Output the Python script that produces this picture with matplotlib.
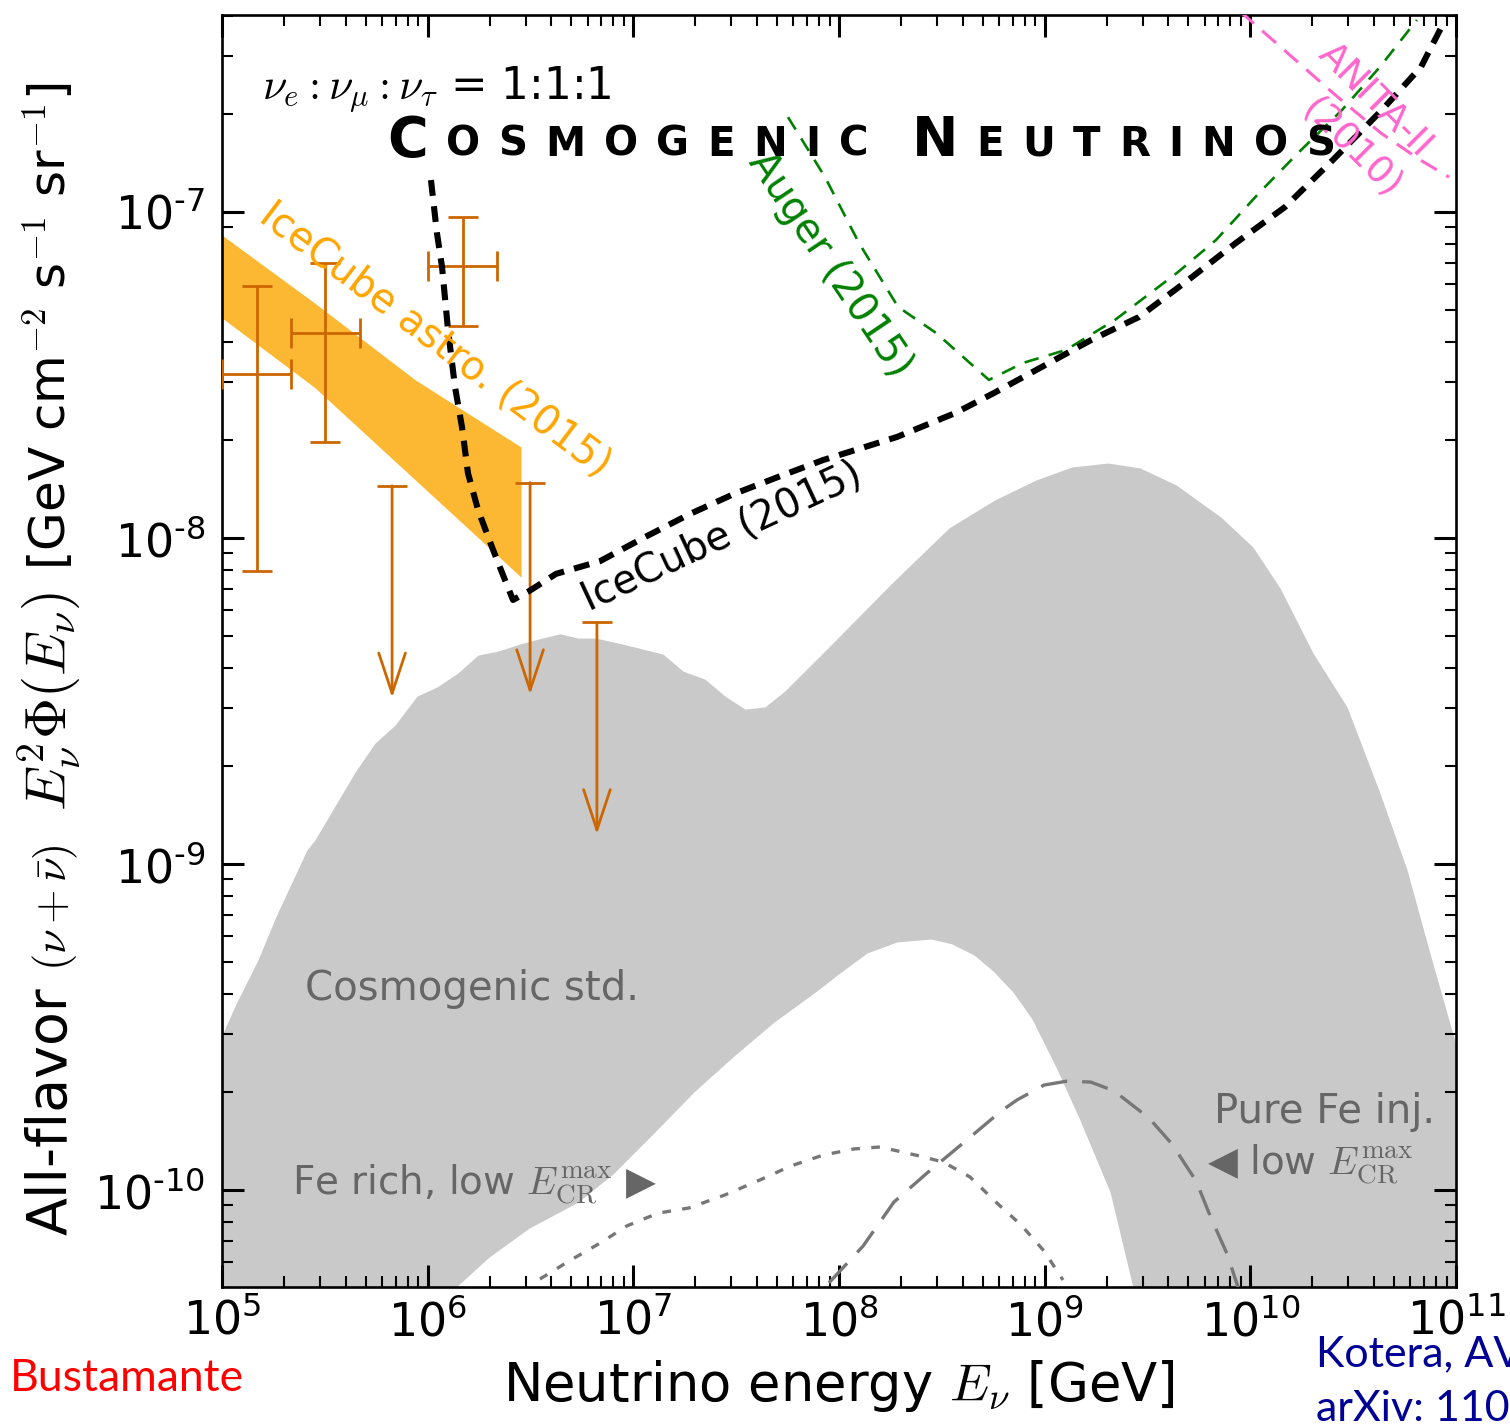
import numpy as np
import matplotlib
matplotlib.use("Agg")
import matplotlib.pyplot as plt
from matplotlib.ticker import LogLocator, NullFormatter

plt.rcParams['font.family'] = ['DejaVu Sans']
plt.rcParams['mathtext.fontset'] = 'cm'

# ---------------- data: log10(E / GeV) and log10(E^2 Phi / GeV cm^-2 s^-1 sr^-1) ----------------
# Cosmogenic std. band (grey)
std_upper_logE = [5.000, 5.068, 5.175, 5.263, 5.413, 5.452, 5.647, 5.744, 5.841, 5.948, 6.045, 6.147,
                  6.245, 6.342, 6.449, 6.556, 6.643, 6.731, 6.818, 6.945, 7.144, 7.241, 7.348, 7.446,
                  7.543, 7.640, 7.737, 7.942, 8.253, 8.535, 8.758, 8.958, 9.133, 9.308, 9.463, 9.639,
                  9.857, 10.013, 10.144, 10.305, 10.470, 10.630, 10.762, 10.873, 11.000]
std_upper_logF = [-9.525, -9.429, -9.294, -9.160, -8.957, -8.926, -8.718, -8.629, -8.574, -8.485, -8.457, -8.414,
                  -8.359, -8.347, -8.325, -8.307, -8.294, -8.307, -8.307, -8.325, -8.356, -8.408, -8.433, -8.485,
                  -8.525, -8.518, -8.469, -8.340, -8.141, -7.969, -7.883, -7.822, -7.782, -7.770, -7.785, -7.837,
                  -7.936, -8.028, -8.153, -8.353, -8.518, -8.782, -9.018, -9.273, -9.555]
std_lower_logE = [6.138, 6.298, 6.493, 6.731, 6.906, 7.100, 7.295, 7.489, 7.684, 7.878, 8.005, 8.136,
                  8.282, 8.447, 8.549, 8.656, 8.749, 8.846, 8.938, 9.055, 9.167, 9.318, 9.429]
std_lower_logF = [-10.298, -10.206, -10.117, -10.037, -9.948, -9.825, -9.699, -9.589, -9.485, -9.396, -9.334, -9.273,
                  -9.239, -9.230, -9.245, -9.279, -9.328, -9.393, -9.475, -9.623, -9.779, -10.006, -10.298]

# IceCube astrophysical band (2015)
astro_logE = [5.000, 5.450, 5.940, 6.454]
astro_upper_logF = [-7.071, -7.279, -7.515, -7.721]
astro_lower_logF = [-7.325, -7.538, -7.822, -8.120]

# IceCube data points
pts_logE = [5.169, 5.501, 6.170]
pts_logE_lo = [5.000, 5.335, 6.000]
pts_logE_hi = [5.335, 5.671, 6.337]
pts_logF = [-7.497, -7.371, -7.166]
pts_logF_lo = [-8.100, -7.705, -7.349]
pts_logF_hi = [-7.227, -7.156, -7.015]

# IceCube upper limits
ul_logE = [5.827, 6.498, 6.823]
ul_logF = [-7.840, -7.830, -8.259]

# IceCube (2015) sensitivity
ic_logE = [6.016, 6.045, 6.070, 6.099, 6.133, 6.167, 6.196, 6.245, 6.313, 6.376, 6.415, 6.493,
           6.624, 6.838, 7.057, 7.276, 7.489, 7.703, 7.922, 8.049, 8.282, 8.564, 8.754, 8.987,
           9.225, 9.459, 9.697, 9.930, 10.168, 10.402, 10.640, 10.830, 10.947]
ic_logF = [-6.902, -7.064, -7.169, -7.362, -7.537, -7.660, -7.801, -7.914, -8.028, -8.129, -8.190, -8.163,
           -8.110, -8.071, -7.997, -7.926, -7.865, -7.813, -7.761, -7.736, -7.690, -7.617, -7.555, -7.475,
           -7.393, -7.322, -7.209, -7.095, -6.985, -6.840, -6.687, -6.555, -6.411]

# Auger (2015)
auger_logE = [7.752, 7.932, 8.097, 8.287, 8.472, 8.729, 8.895, 9.104, 9.342, 9.643, 9.833, 10.042,
              10.232, 10.446, 10.630, 10.810]
auger_logF = [-6.709, -6.893, -7.095, -7.291, -7.371, -7.515, -7.463, -7.423, -7.331, -7.187, -7.086, -6.942,
              -6.819, -6.687, -6.555, -6.411]

# ANITA-II (2010)
anita_logE = [9.950, 9.998, 10.164, 10.402, 10.635, 10.825, 10.966]
anita_logF = [-6.385, -6.411, -6.503, -6.635, -6.758, -6.840, -6.893]

# Fe rich, low E_CR^max
fe_rich_logE = [6.546, 6.687, 6.838, 6.969, 7.120, 7.271, 7.446, 7.616, 7.767, 7.922, 8.073, 8.199,
                8.374, 8.506, 8.637, 8.768, 8.885, 8.997, 9.089]
fe_rich_logF = [-10.273, -10.218, -10.163, -10.110, -10.071, -10.055, -10.015, -9.969, -9.926, -9.893, -9.874, -9.868,
                -9.893, -9.914, -9.960, -10.040, -10.107, -10.187, -10.276]

# Pure Fe injection, low E_CR^max
pure_fe_logE = [7.951, 8.117, 8.267, 8.428, 8.598, 8.788, 8.865, 8.997, 9.109, 9.225, 9.337, 9.507,
                9.619, 9.736, 9.809, 9.887, 9.940]
pure_fe_logF = [-10.285, -10.172, -10.037, -9.948, -9.859, -9.758, -9.724, -9.678, -9.666, -9.669, -9.696, -9.779,
                -9.859, -9.972, -10.086, -10.196, -10.298]

x_tick_exps = [5, 6, 7, 8, 9, 10, 11]
y_tick_exps = [-10, -9, -8, -7]

# ---------------- figure ----------------
W, H = 1510, 1425
fig = plt.figure(figsize=(W / 100, H / 100), dpi=100)
ax = fig.add_axes([222 / W, 1 - 1287 / H, (1456 - 222) / W, (1287 - 15) / H])
ax.set_xscale('log')
ax.set_yscale('log')
ax.set_xlim(1e5, 1e11)
ax.set_ylim(10 ** -10.2975, 10 ** -6.3957)

P = lambda a: 10 ** np.asarray(a, dtype=float)

# grey band
g = np.linspace(5, 11, 3001)
up = np.interp(g, std_upper_logE, std_upper_logF)
lo = np.interp(g, std_lower_logE, std_lower_logF, left=-12, right=-12)
ax.fill_between(P(g), P(lo), P(up), color='#c9c9c9', lw=0, zorder=1)

# astro band
ga = np.linspace(astro_logE[0], astro_logE[-1], 300)
ax.fill_between(P(ga), P(np.interp(ga, astro_logE, astro_lower_logF)),
                P(np.interp(ga, astro_logE, astro_upper_logF)), color='#fdb833', lw=0, zorder=2)

# model lines
grey = '#777777'
ax.plot(P(fe_rich_logE), P(fe_rich_logF), color=grey, lw=2.4, ls=(0, (2.6, 3.4)), zorder=3)
ax.plot(P(pure_fe_logE), P(pure_fe_logF), color=grey, lw=2.4, ls=(0, (8, 4.5)), zorder=3)

# data points
c_pts = '#cc6600'
E = P(pts_logE); F = P(pts_logF)
ax.errorbar(E, F, xerr=[E - P(pts_logE_lo), P(pts_logE_hi) - E],
            yerr=[F - P(pts_logF_lo), P(pts_logF_hi) - F],
            fmt='none', ecolor=c_pts, elinewidth=2.0, capsize=11, capthick=2.0, zorder=4)
for e, f in zip(P(ul_logE), P(ul_logF)):
    ax.plot([e], [f], marker='_', ms=22, mew=2.0, color=c_pts, zorder=4)
    ax.annotate('', xy=(e, f * 10 ** -0.65), xytext=(e, f),
                arrowprops=dict(arrowstyle='->,head_length=1.45,head_width=0.48', mutation_scale=20,
                                color=c_pts, lw=2.0, shrinkA=0, shrinkB=0), zorder=4)

# experiments
ax.plot(P(auger_logE), P(auger_logF), color='#008000', lw=1.9, ls=(0, (5.5, 4)), zorder=5)
ax.plot(P(anita_logE), P(anita_logF), color='#ff66cc', lw=2.2, ls=(0, (6, 3.6)), zorder=5)
ax.plot(P(ic_logE), P(ic_logF), color='black', lw=4.4, ls=(0, (2.6, 1.7)),
        dash_capstyle='butt', zorder=6)

# ticks
ax.set_xticks(P(x_tick_exps))
ax.set_xticklabels([r'$\mathregular{10^{%d}}$' % k for k in x_tick_exps])
ax.set_yticks(P(y_tick_exps))
ax.set_yticklabels([r'$\mathregular{10^{‐%d}}$' % (-k) for k in y_tick_exps])
ax.xaxis.set_minor_locator(LogLocator(base=10, subs=np.arange(2, 10), numticks=100))
ax.yaxis.set_minor_locator(LogLocator(base=10, subs=np.arange(2, 10), numticks=100))
ax.xaxis.set_minor_formatter(NullFormatter())
ax.yaxis.set_minor_formatter(NullFormatter())
ax.tick_params(which='major', direction='in', length=16, width=2.2, top=True, right=True, labelsize=33)
ax.tick_params(which='minor', direction='in', length=8, width=1.5, top=True, right=True)
ax.tick_params(axis='x', which='major', pad=9)
ax.tick_params(axis='y', which='major', pad=12)
for s in ax.spines.values():
    s.set_linewidth(1.9)

ax.set_xlabel(r'Neutrino energy $E_\nu$ [GeV]', fontsize=38)
ax.xaxis.set_label_coords(0.5, -0.056)

# in-plot annotations
T = ax.transAxes
ax.text(0.0324, 0.9332, r'$\nu_e:\nu_\mu:\nu_\tau$ = 1:1:1', fontsize=31.5, transform=T,
        ha='left', va='baseline', zorder=8)
ax.text(0.1726, 0.7445, 'IceCube astro. (2015)', fontsize=28.5, color='#ffa500', rotation=-37,
        rotation_mode='anchor', ha='center', va='center', transform=T, zorder=8)
ax.text(0.4052, 0.5896, 'IceCube (2015)', fontsize=28.5, color='black', rotation=25,
        rotation_mode='anchor', ha='center', va='center', transform=T, zorder=8)
ax.text(0.4927, 0.8035, 'Auger (2015)', fontsize=28.5, color='#008000', rotation=-56,
        rotation_mode='anchor', ha='center', va='center', transform=T, zorder=8)
ax.text(0.9344, 0.9332, 'ANITA-II', fontsize=27, color='#ff66cc', rotation=-45,
        rotation_mode='anchor', ha='center', va='center', transform=T, zorder=8)
ax.text(0.9157, 0.8954, '(2010)', fontsize=27, color='#ff66cc', rotation=-45,
        rotation_mode='anchor', ha='center', va='center', transform=T, zorder=8)
tg = '#666666'
ax.text(0.0673, 0.2256, 'Cosmogenic std.', fontsize=29, color=tg, transform=T,
        ha='left', va='baseline', zorder=8)
ax.text(0.0567, 0.0723, r'Fe rich, low $E_{\rm CR}^{\rm max}$ ▶', fontsize=28, color=tg,
        transform=T, ha='left', va='baseline', zorder=8)
ax.text(0.983, 0.1289, 'Pure Fe inj.', fontsize=29, color=tg, transform=T,
        ha='right', va='baseline', zorder=8)
ax.text(0.798, 0.0881, r'◀ low $E_{\rm CR}^{\rm max}$', fontsize=28, color=tg, transform=T,
        ha='left', va='baseline', zorder=8)

# ---------------- chained texts (title with small caps, y label) ----------------
fig.canvas.draw()
renderer = fig.canvas.get_renderer()

big, small = 40, 29
title_letters = [('C', big), ('O', small), ('S', small), ('M', small), ('O', small), ('G', small),
                 ('E', small), ('N', small), ('I', small), ('C', small),
                 ('N', big), ('E', small), ('U', small), ('T', small), ('R', small), ('I', small),
                 ('N', small), ('O', small), ('S', small)]
x_start, x_end, base_y, word_gap = 387, 1335, H - 156, 43
tl = []
for ch, fs in title_letters:
    t = fig.text(0, base_y / H, ch, fontsize=fs, fontweight='bold', color='black',
                 ha='left', va='baseline', zorder=9)
    tl.append((t, t.get_window_extent(renderer).width))
natural = sum(w for _, w in tl)
track = (x_end - x_start - natural - word_gap) / (len(tl) - 2)
xpos = x_start
for i, (t, w) in enumerate(tl):
    t.set_x(xpos / W)
    xpos += w + (word_gap if i == 9 else track)

# y label as a vertical run of pieces
ylab = [('All-flavor', 40, 16), (r'$(\nu+\bar{\nu})$', 32, 34),
        (r'$E_\nu^2\Phi(E_\nu)$', 41, 22), (r'[GeV cm$^{-2}$ s$^{-1}$ sr$^{-1}$]', 36, 0)]
ypos = H - 1235
for s, fs, gap in ylab:
    t = fig.text(66 / W, ypos / H, s, fontsize=fs, rotation=90, rotation_mode='anchor',
                 ha='left', va='baseline', color='black')
    ypos += t.get_window_extent(renderer).height + gap

# credits
fig.text(10 / W, 1 - 1391 / H, 'Bustamante', fontsize=32, color='#ff0000', family='Lato',
         ha='left', va='baseline')
fig.text(1316 / W, 1 - 1366 / H, 'Kotera, AV', fontsize=31, color='#000096', family='Lato',
         ha='left', va='baseline')
fig.text(1316 / W, 1 - 1421 / H, 'arXiv: 110', fontsize=31, color='#000096', family='Lato',
         ha='left', va='baseline')

fig.savefig('out.png', dpi=100)
